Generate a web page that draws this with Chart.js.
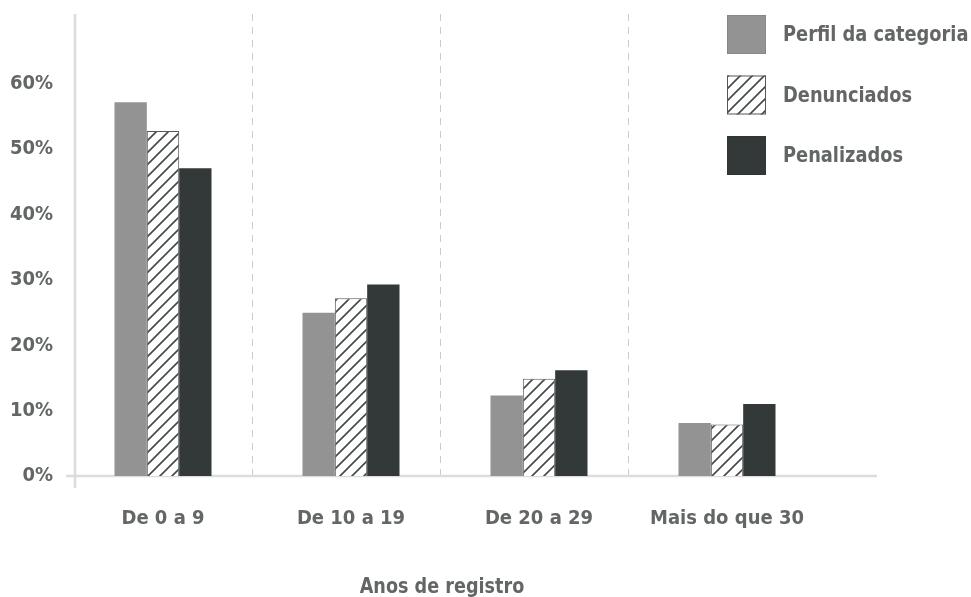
<!DOCTYPE html>
<html>
<head>
<meta charset="utf-8">
<script src="https://cdn.jsdelivr.net/npm/chart.js@4/dist/chart.umd.min.js"></script>
<style>
  html, body { margin: 0; padding: 0; background: #ffffff; }
  #wrap { width: 971px; height: 597px; position: relative; }
</style>
</head>
<body>
<div id="wrap"><canvas id="c" width="971" height="597"></canvas></div>
<script>
// ---- Data ----
const categories = ['De 0 a 9', 'De 10 a 19', 'De 20 a 29', 'Mais do que 30'];
const seriesNames = ['Perfil da categoria', 'Denunciados', 'Penalizados'];
const perfil = [57.2, 25.0, 12.3, 8.1];
const denunciados = [52.8, 27.2, 14.9, 7.9];
const penalizados = [47.1, 29.3, 16.2, 11.0];
const yTickValues = [0, 10, 20, 30, 40, 50, 60];
const axisTitle = 'Anos de registro';

// ---- Styles ----
const FONT = '"DejaVu Sans Condensed", "Liberation Sans Narrow", Roboto, sans-serif';
const TEXT = '#636666';
const GRAY = '#939393';
const DARK = '#333939';

function hatchPattern() {
  const s = 12;
  const c = document.createElement('canvas');
  c.width = s; c.height = s;
  const g = c.getContext('2d');
  g.fillStyle = '#ffffff';
  g.fillRect(0, 0, s, s);
  g.strokeStyle = '#444848';
  g.lineWidth = 1.6;
  g.beginPath();
  g.moveTo(-2, s + 2); g.lineTo(s + 2, -2);
  g.moveTo(-2, 2); g.lineTo(2, -2);
  g.moveTo(s - 2, s + 2); g.lineTo(s + 2, s - 2);
  g.stroke();
  return document.getElementById('c').getContext('2d').createPattern(c, 'repeat');
}
const HATCH = hatchPattern();

function squeezedText(ctx, text, x, y, sx) {
  ctx.save();
  ctx.translate(x, y);
  ctx.scale(sx, 1);
  ctx.fillText(text, 0, 0);
  ctx.restore();
}

const decor = {
  id: 'decor',
  beforeDatasetsDraw(chart) {
    const { ctx, chartArea: a, scales: { x, y } } = chart;
    ctx.save();
    // dashed separators between categories
    ctx.strokeStyle = '#cccccc';
    ctx.lineWidth = 1;
    ctx.setLineDash([7, 6]);
    for (let i = 1; i < categories.length; i++) {
      const px = Math.round((x.getPixelForValue(i - 1) + x.getPixelForValue(i)) / 2) - 4.5;
      ctx.beginPath();
      ctx.moveTo(px, a.top);
      ctx.lineTo(px, y.getPixelForValue(0));
      ctx.stroke();
    }
    ctx.setLineDash([]);
    // axis lines
    ctx.strokeStyle = '#dcdcdc';
    ctx.lineWidth = 2.5;
    const y0 = y.getPixelForValue(0);
    const ax = a.left + 6;
    ctx.beginPath();
    ctx.moveTo(ax, a.top);
    ctx.lineTo(ax, y0 + 12);
    ctx.stroke();
    ctx.beginPath();
    ctx.moveTo(a.left - 3, y0);
    ctx.lineTo(a.right + 56, y0);
    ctx.stroke();
    ctx.restore();
  },
  afterDraw(chart) {
    const { ctx } = chart;
    ctx.save();
    // legend
    const bx = 727, by = 15, box = 39, gap = 60.5;
    ctx.font = 'bold 22px ' + FONT;
    ctx.textBaseline = 'middle';
    chart.data.datasets.forEach((ds, i) => {
      const top = by + i * gap;
      ctx.fillStyle = ds.backgroundColor;
      ctx.fillRect(bx, top, box, box);
      ctx.strokeStyle = i === 1 ? '#555858' : 'rgba(0,0,0,0.08)';
      ctx.lineWidth = 1;
      ctx.strokeRect(bx + 0.5, top + 0.5, box - 1, box - 1);
      ctx.fillStyle = TEXT;
      squeezedText(ctx, ds.label, bx + 56, top + box / 2 + 1, 0.9);
    });
    // axis title
    ctx.font = 'bold 22px ' + FONT;
    ctx.textAlign = 'center';
    ctx.textBaseline = 'alphabetic';
    squeezedText(ctx, axisTitle, 442, 593, 0.89);
    ctx.restore();
  }
};

new Chart(document.getElementById('c'), {
  type: 'bar',
  data: {
    labels: categories,
    datasets: [
      { label: seriesNames[0], data: perfil, backgroundColor: GRAY, borderWidth: 0 },
      { label: seriesNames[1], data: denunciados, backgroundColor: HATCH, borderColor: '#555858', borderWidth: 1 },
      { label: seriesNames[2], data: penalizados, backgroundColor: DARK, borderWidth: 0 }
    ]
  },
  options: {
    responsive: false,
    animation: false,
    layout: { padding: { left: 0, right: 150, top: 14, bottom: 0 } },
    plugins: { legend: { display: false }, tooltip: { enabled: false } },
    datasets: { bar: { barPercentage: 1.0, categoryPercentage: 0.516 } },
    scales: {
      x: {
        grid: { display: false },
        border: { display: false },
        ticks: { color: TEXT, font: { family: FONT, size: 20, weight: 'bold' }, padding: 23 },
        afterFit(s) { s.height = 121; s.paddingLeft = 0; s.paddingRight = 0; }
      },
      y: {
        min: 0,
        max: 70.7,
        grid: { display: false },
        border: { display: false },
        afterBuildTicks(s) { s.ticks = yTickValues.map(v => ({ value: v })); },
        ticks: {
          color: TEXT,
          font: { family: FONT, size: 20, weight: 'bold' },
          padding: 8,
          callback: v => v + '%'
        },
        afterFit(s) { s.width = 69; s.paddingTop = 0; s.paddingBottom = 0; }
      }
    }
  },
  plugins: [decor]
});
</script>
</body>
</html>
